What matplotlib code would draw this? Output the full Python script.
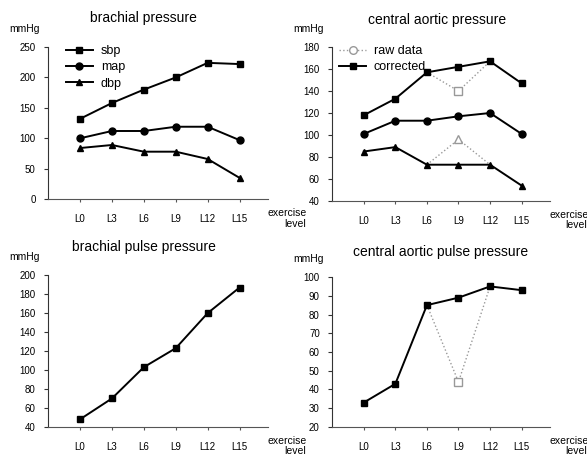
import numpy as np
import matplotlib
matplotlib.use("Agg")
import matplotlib.pyplot as plt

plt.rcParams['font.family'] = ['Liberation Sans', 'DejaVu Sans']

levels = ['L0', 'L3', 'L6', 'L9', 'L12', 'L15']

# brachial pressure
br_sbp = [132, 158, 180, 200, 224, 222]
br_map = [100, 112, 112, 119, 119, 97]
br_dbp = [84, 89, 78, 78, 66, 35]

# central aortic pressure (corrected and raw)
ca_sbp = [118, 133, 157, 162, 167, 147]
ca_map = [101, 113, 113, 117, 120, 101]
ca_dbp = [85, 89, 73, 73, 73, 54]
ca_sbp_raw = [118, 133, 157, 140, 167, 147]
ca_dbp_raw = [85, 89, 73, 96, 73, 54]

# pulse pressures
br_pp = [48, 70, 103, 123, 160, 187]
ca_pp = [33, 43, 85, 89, 95, 93]
ca_pp_raw = [33, 43, 85, 44, 95, 93]

x = np.arange(len(levels))
raw_idx = slice(2, 5)  # raw data differs only at L9, drawn L6..L12


def setup(ax, yticks, title, label_x, title_x, title_dy):
    ax.spines['top'].set_visible(False)
    ax.spines['right'].set_visible(False)
    ax.spines['left'].set_color('#333333')
    ax.spines['bottom'].set_color('#555555')
    ax.spines['bottom'].set_linestyle((0, (3, 1)))
    ax.set_xlim(-1, 5.9)
    ax.set_ylim(yticks[0], yticks[-1])
    ax.set_yticks(yticks)
    ax.set_xticks(x)
    ax.set_xticklabels(levels)
    ax.tick_params(axis='x', length=2, pad=9, labelsize=7, color='#555555')
    ax.tick_params(axis='y', length=3, pad=6, labelsize=7, color='#333333')
    pos = ax.get_position()
    fig.text(label_x, pos.y1 + 0.04, 'mmHg', fontsize=7.5, ha='left', va='center')
    fig.text(title_x, pos.y1 + title_dy, title, fontsize=10, ha='center', va='center')
    fig.text(pos.x1 + 0.032, pos.y0 - 0.03, 'exercise', fontsize=7.5, ha='center', va='center')
    fig.text(pos.x1 + 0.045, pos.y0 - 0.053, 'level', fontsize=7.5, ha='center', va='center')


fig = plt.figure(figsize=(5.87, 4.61), dpi=100)

ax1 = fig.add_axes([0.082, 0.568, 0.375, 0.330])
ax2 = fig.add_axes([0.566, 0.564, 0.371, 0.334])
ax3 = fig.add_axes([0.082, 0.074, 0.375, 0.329])
ax4 = fig.add_axes([0.566, 0.074, 0.371, 0.325])

kw = dict(color='black', lw=1.4, ms=5)
raw_kw = dict(color='#999999', lw=1.0, ls=':', ms=5.5, mfc='white', mec='#999999')

# top left
ax1.plot(x, br_sbp, marker='s', label='sbp', **kw)
ax1.plot(x, br_map, marker='o', label='map', **kw)
ax1.plot(x, br_dbp, marker='^', label='dbp', **kw)
ax1.legend(loc='upper left', bbox_to_anchor=(0.04, 1.07), frameon=False,
           fontsize=9, handlelength=2.2, labelspacing=0.35, borderpad=0.2,
           handletextpad=0.6)
setup(ax1, np.arange(0, 251, 50), 'brachial pressure', 0.015, 0.245, 0.063)

# top right
ax2.plot(x[raw_idx], ca_sbp_raw[raw_idx], marker='s', markevery=[1], **raw_kw)
ax2.plot(x[raw_idx], ca_dbp_raw[raw_idx], marker='^', markevery=[1], **raw_kw)
ax2.plot([], [], marker='o', label='raw data', **raw_kw)
ax2.plot(x, ca_sbp, marker='s', label='corrected', **kw)
ax2.plot(x, ca_map, marker='o', **kw)
ax2.plot(x, ca_dbp, marker='^', **kw)
ax2.legend(loc='upper left', bbox_to_anchor=(-0.01, 1.07), frameon=False,
           fontsize=9, handlelength=2.2, labelspacing=0.35, borderpad=0.2,
           handletextpad=0.6)
setup(ax2, np.arange(40, 181, 20), 'central aortic pressure', 0.500, 0.745, 0.059)

# bottom left
ax3.plot(x, br_pp, marker='s', **kw)
setup(ax3, np.arange(40, 201, 20), 'brachial pulse pressure', 0.015, 0.245, 0.061)

# bottom right
ax4.plot(x[raw_idx], ca_pp_raw[raw_idx], marker='s', markevery=[1], **raw_kw)
ax4.plot(x, ca_pp, marker='s', **kw)
setup(ax4, np.arange(20, 101, 10), 'central aortic pulse pressure', 0.500, 0.75, 0.055)

fig.savefig('out.png', dpi=100)
